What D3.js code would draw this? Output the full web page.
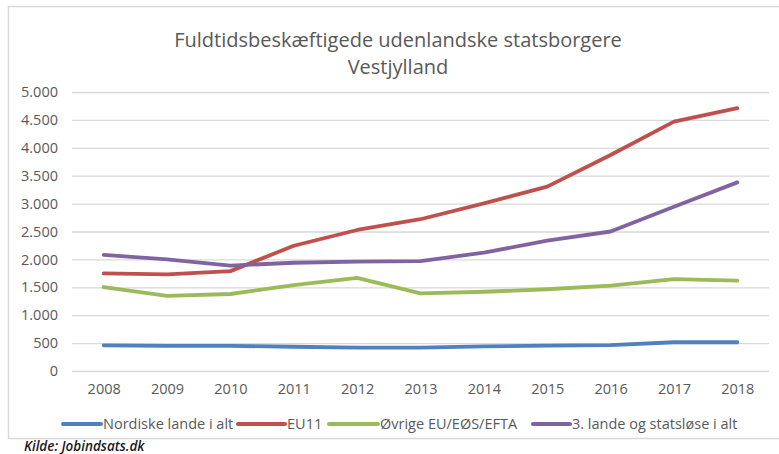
<!DOCTYPE html>
<html>
<head>
<meta charset="utf-8">
<script src="https://cdn.jsdelivr.net/npm/d3@7"></script>
<style>
  body { margin: 0; background: #fff; }
  text { font-family: "Open Sans", sans-serif; }
</style>
</head>
<body>
<div id="chart"></div>
<script>
// data
const years = [2008, 2009, 2010, 2011, 2012, 2013, 2014, 2015, 2016, 2017, 2018];
const nordic = [460, 450, 450, 435, 420, 420, 440, 455, 465, 515, 515];
const eu11 = [1750, 1730, 1790, 2245, 2527, 2720, 3005, 3305, 3870, 4470, 4710];
const oevrige = [1505, 1345, 1380, 1540, 1670, 1390, 1420, 1465, 1530, 1645, 1620];
const tredje = [2080, 2000, 1890, 1940, 1960, 1970, 2120, 2335, 2500, 2945, 3380];
const seriesNames = ["Nordiske lande i alt", "EU11", "Øvrige EU/EØS/EFTA", "3. lande og statsløse i alt"];
const yTicks = [0, 500, 1000, 1500, 2000, 2500, 3000, 3500, 4000, 4500, 5000];

const colors = ["#4F81BD", "#C0504D", "#9BBB59", "#8064A2"];
const series = [nordic, eu11, oevrige, tredje];

const W = 779, H = 454;
const margin = {top: 92, right: 10, bottom: 83, left: 72},
    width = W - margin.left - margin.right,
    height = H - margin.top - margin.bottom;

const root = d3.select("#chart").append("svg")
    .attr("width", W).attr("height", H);

// outer frame
root.append("rect")
    .attr("x", 8.5).attr("y", 6.5)
    .attr("width", W + 10).attr("height", 432)
    .attr("fill", "none").attr("stroke", "#d9d9d9").attr("stroke-width", 1.5);

// title
root.append("text").attr("x", 398).attr("y", 47)
    .attr("text-anchor", "middle").attr("font-size", 20).attr("fill", "#595959")
    .text("Fuldtidsbeskæftigede udenlandske statsborgere");
root.append("text").attr("x", 398).attr("y", 74)
    .attr("text-anchor", "middle").attr("font-size", 20).attr("fill", "#595959")
    .text("Vestjylland");

const svg = root.append("g")
    .attr("transform", `translate(${margin.left}, ${margin.top})`);

const xScale = d3.scalePoint()
    .domain(years)
    .range([0, width])
    .padding(0.5);

const yScale = d3.scaleLinear()
    .domain([0, 5000])
    .range([height, 0]);

const fmt = d3.formatLocale({decimal: ",", thousands: ".", grouping: [3], currency: ["", " kr"]}).format(",");

// y axis with gridlines
const yAxis = svg.append("g")
    .call(d3.axisLeft(yScale).tickValues(yTicks).tickSize(-width).tickFormat(fmt).tickPadding(14));
yAxis.select(".domain").remove();
yAxis.selectAll(".tick line").attr("stroke", "#d9d9d9").attr("stroke-width", 1.3);
yAxis.selectAll(".tick text").attr("fill", "#595959").attr("font-size", 14.5)
    .style("font-family", "Open Sans, sans-serif");

// x axis
const xAxis = svg.append("g")
    .attr("transform", `translate(0, ${height})`)
    .call(d3.axisBottom(xScale).tickSize(0).tickPadding(13));
xAxis.select(".domain").remove();
xAxis.selectAll(".tick text").attr("fill", "#595959").attr("font-size", 14.5)
    .style("font-family", "Open Sans, sans-serif");

const line = d3.line()
    .x((d, i) => xScale(years[i]))
    .y(d => yScale(d));

series.forEach((s, k) => {
  svg.append("path")
      .datum(s)
      .attr("fill", "none")
      .attr("stroke", colors[k])
      .attr("stroke-width", 3.8)
      .attr("stroke-linecap", "round")
      .attr("stroke-linejoin", "round")
      .attr("d", line);
});

// legend
const legendX = [[63, 101], [238, 285], [329, 378], [533, 570]];
const legend = root.append("g");
seriesNames.forEach((name, k) => {
  legend.append("line")
      .attr("x1", legendX[k][0]).attr("x2", legendX[k][1])
      .attr("y1", 424).attr("y2", 424)
      .attr("stroke", colors[k]).attr("stroke-width", 4).attr("stroke-linecap", "round");
  legend.append("text")
      .attr("x", legendX[k][1] + 2).attr("y", 429)
      .attr("font-size", 14.5).attr("fill", "#595959")
      .text(name);
});

// source
root.append("text").attr("x", 24).attr("y", 451)
    .attr("font-size", 13.5).attr("font-style", "italic").attr("font-weight", 600)
    .attr("fill", "#1a1a1a")
    .text("Kilde: Jobindsats.dk");
</script>
</body>
</html>
